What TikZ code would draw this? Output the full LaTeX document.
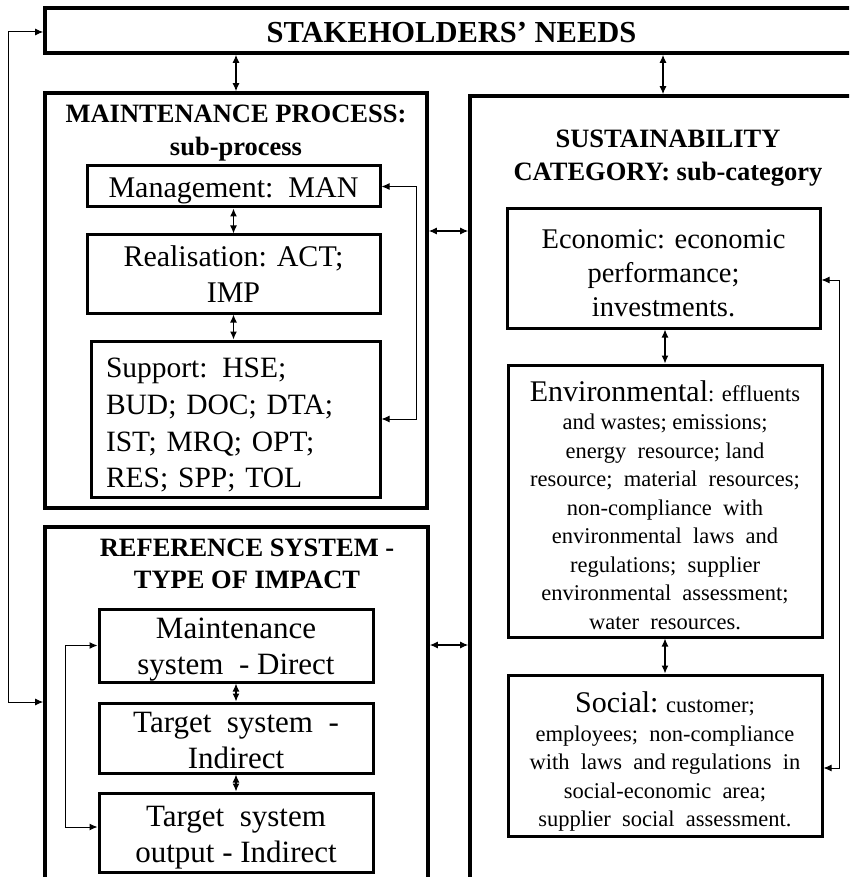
\documentclass[tikz,border=0pt]{standalone}
\usepackage{fontspec}
\setmainfont{Liberation Serif}
\usetikzlibrary{arrows.meta}
\newcommand\fsz[2]{\fontsize{#1}{#2}\selectfont}
% invisible strut that lowers a centred text block
\newcommand\lift[1]{\rule{0pt}{#1pt}}
\begin{document}
\begin{tikzpicture}[x=1pt,y=-1pt,
  frame/.style={draw, line width=3.6pt, inner sep=0pt},
  item/.style={draw, line width=3pt, inner sep=0pt, align=center},
  title/.style={align=center, inner sep=0pt, font=\bfseries\fsz{26.5}{32.5}},
  conn/.style={line width=1.2pt, {Latex[length=8pt,width=7pt]}-{Latex[length=8pt,width=7pt]}},
  loopconn/.style={conn, line width=1pt}]

\useasboundingbox (0,0) rectangle (849,877);
\clip (0,0) rectangle (849,877);
\fill[white] (0,0) rectangle (849,877);

% top bar
\node[frame, minimum width=813pt, minimum height=45pt, font=\bfseries\fsz{30.5}{34}] (sn) at (451.5,30.5) {\lift{25}STAKEHOLDERS’ NEEDS};

% maintenance process
\node[frame, minimum width=382pt, minimum height=415pt] (mp) at (236,300.5) {};
\node[title] (mpt) at (236,133) {MAINTENANCE PROCESS:\\sub-process};
\node[item, minimum width=293pt, minimum height=41pt, font=\fsz{30}{36}] (man) at (233.5,186.5) {\lift{28.5}Management:\ \ MAN};
\node[item, minimum width=293pt, minimum height=78pt, font=\fsz{30}{36}] (real) at (233.5,274) {Realisation: ACT;\\IMP};
\node[item, minimum width=289pt, minimum height=156pt, text width=259pt, inner xsep=15pt, align=left, font=\fsz{29.5}{36.6}] (sup) at (235.5,419) {\lift{32}Support: HSE;\\BUD; DOC; DTA;\\IST; MRQ; OPT;\\RES; SPP; TOL};

% sustainability category
\node[frame, minimum width=400pt, minimum height=794pt] (sc) at (670,493) {};
\node[title, font=\bfseries\fsz{26.5}{33}] (sct) at (668,158.5) {SUSTAINABILITY\\CATEGORY: sub-category};
\node[item, minimum width=313pt, minimum height=119pt, font=\fsz{28.5}{34}] (eco) at (663.5,268.5) {\lift{28}Economic: economic\\performance;\\investments.};
\node[item, minimum width=314pt, minimum height=272pt, font=\fsz{22.5}{28.5}] (env) at (665,501) {\lift{28.5}{\fsz{30}{30}Environmental}: effluents\\and wastes; emissions;\\energy\ \ resource; land\\resource;\ \ material\ \ resources;\\non-compliance\ \ with\\environmental\ \ laws\ \ and\\regulations;\ \ supplier\\environmental\ \ assessment;\\water\ \ resources.};
\node[item, minimum width=314pt, minimum height=161pt, font=\fsz{22.5}{28.5}] (soc) at (665,755.5) {\lift{33}{\fsz{30}{30}Social:} customer;\\employees;\ \ non-compliance\\with\ \ laws\ \ and regulations\ \ in\\social-economic\ \ area;\\supplier\ \ social\ \ assessment.};

% reference system
\node[frame, minimum width=383pt, minimum height=363pt] (rs) at (236.5,708.5) {};
\node[title] (rst) at (247,564) {REFERENCE SYSTEM -\\TYPE OF IMPACT};
\node[item, minimum width=274pt, minimum height=73pt, font=\fsz{31}{36}] (ms) at (236,645.5) {\lift{29}Maintenance\\system\ \ - Direct};
\node[item, minimum width=274pt, minimum height=70pt, font=\fsz{31}{36}] (ts) at (236,738) {\lift{25}Target\ \ system\ \ -\\Indirect};
\node[item, minimum width=274pt, minimum height=79pt, font=\fsz{31}{36}] (to) at (236,832.5) {\lift{31}Target\ \ system\\output - Indirect};

% helper positions for connectors
\coordinate (xs) at (663,0);
\coordinate (ya) at (0,231);
\coordinate (yb) at (0,645);
\coordinate (ye1) at (0,280);
\coordinate (ye2) at (0,768);
\coordinate (yr) at (0,827);
\coordinate (yo1) at (0,32);
\coordinate (yo2) at (0,702);

% connectors
\draw[conn] (mp.north) -- (mp.north |- sn.south);
\draw[conn] (sn.south -| xs) -- (sc.north -| xs);
\draw[conn] (man.south) -- (real.north);
\draw[conn] (real.south) -- (sup.north -| real.south);
\draw[loopconn] (man.east) -- ++(35,0) |- (sup.east);
\draw[conn] (mp.east |- ya) -- (sc.west |- ya);
\draw[conn] (rs.east |- yb) -- (sc.west |- yb);
\draw[conn] (env.north |- eco.south) -- (env.north);
\draw[conn] (env.south) -- (soc.north);
\draw[loopconn] (eco.east |- ye1) -- ++(18,0) |- (soc.east |- ye2);
\draw[conn] (ms.south) -- (ts.north);
\draw[conn] (ts.south) -- (to.north);
\draw[loopconn] (ms.west) -- ++(-32,0) |- (to.west |- yr);
\draw[loopconn] (sn.west |- yo1) -- ++(-35,0) |- (rs.west |- yo2);
\end{tikzpicture}
\end{document}
